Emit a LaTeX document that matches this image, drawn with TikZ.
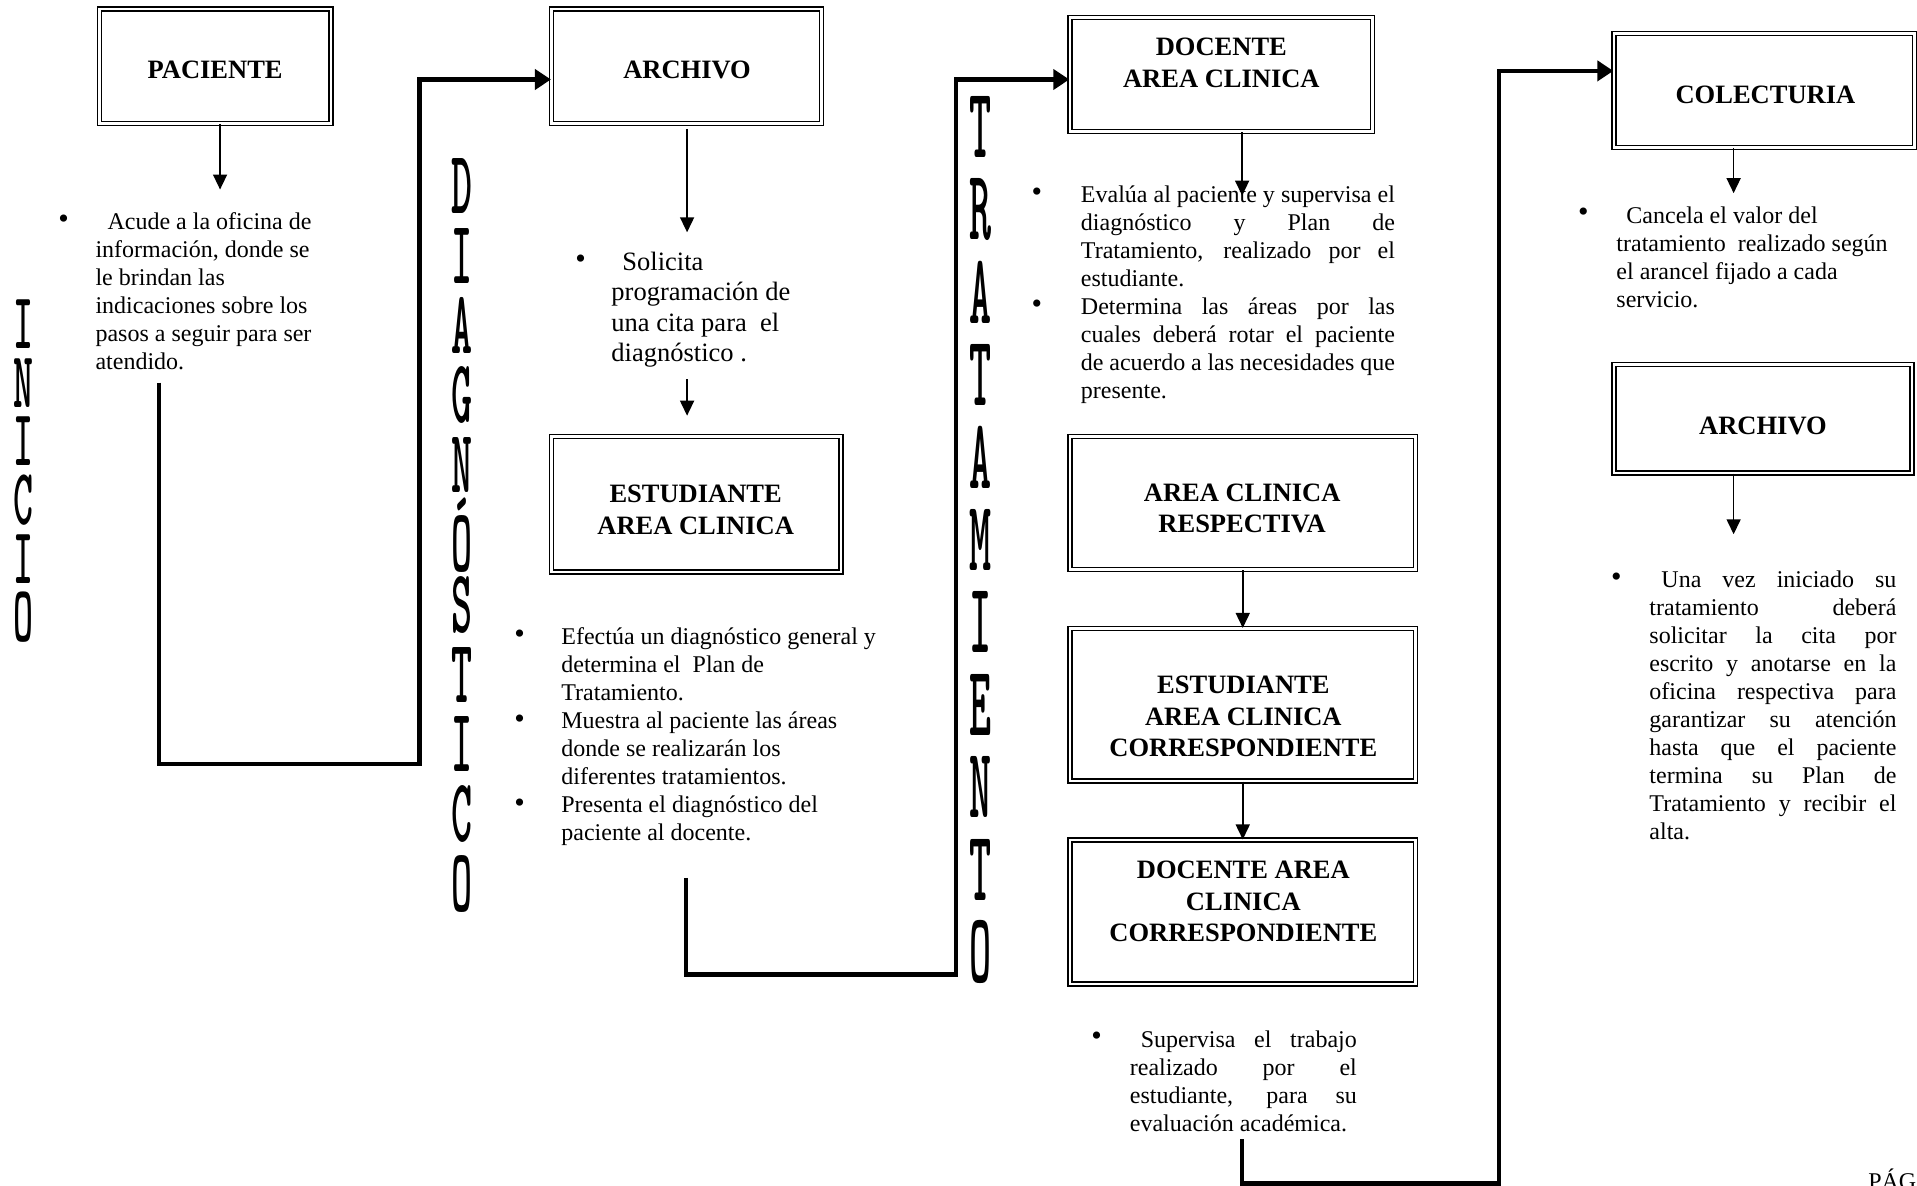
\documentclass[tikz,border=0pt]{standalone}
\usepackage{fontspec}
\setmainfont{Liberation Serif}
\usepackage{graphicx}
\usetikzlibrary{arrows.meta}
\newcommand\dboxnode[5]{\node[dbox, minimum width={#4*1.2226pt-5.4pt}, minimum height={#5*1.2226pt-5.4pt}] (#1) at (#2,#3) {};}
\newcommand\vletter[3]{\scalebox{1}[#2]{\ttfamily\bfseries\fontsize{#1}{#1}\selectfont #3}}
\begin{document}
\begin{tikzpicture}[x=1.2226pt,y=-1.2226pt,
  dbox/.style={draw, double, line width=1.4pt, double distance=2.6pt, inner sep=0pt},
  btext/.style={font=\fontsize{26.5pt}{31.5pt}\selectfont\bfseries, align=center, inner sep=0pt},
  body/.style={font=\fontsize{24pt}{28pt}\selectfont, align=left, anchor=north west, inner sep=0pt},
  bul/.style={font=\fontsize{30pt}{30pt}\selectfont, inner sep=0pt},
  conn/.style={line width=4.5pt, -{Triangle[length=16pt,width=20pt]}},
  arr/.style={line width=1.6pt, -{Triangle[length=15pt,width=14pt]}},
  vl/.style={inner sep=0pt}]
\useasboundingbox (0,0) rectangle (1568,970);
\fill[white] (0,0) rectangle (1568,970);
\clip (0,0) rectangle (1568,970);

% ---------- boxes ----------
\dboxnode{pac}{176}{54}{194}{98}
\dboxnode{arch1}{561.5}{54}{225}{98}
\dboxnode{estud1}{569.5}{412.5}{241}{115}
\dboxnode{doc1}{999}{61}{252}{98}
\dboxnode{arc}{1016.5}{411.5}{287}{113}
\dboxnode{estC}{1016.5}{576.5}{287}{129}
\dboxnode{docC}{1016.5}{746}{287}{122}
\dboxnode{colec}{1443}{74}{250}{98}
\dboxnode{arch2}{1442}{342.5}{248}{93}

\node[btext] (pacT) at (176,57) {PACIENTE};
\node[btext] (arch1T) at (562,57) {ARCHIVO};
\node[btext] (estud1T) at (569,417) {ESTUDIANTE\\AREA CLINICA};
\node[btext] (doc1T) at (999,51.5) {DOCENTE\\AREA CLINICA};
\node[btext] (arcT) at (1016,416) {AREA CLINICA\\RESPECTIVA};
\node[btext] (estCT) at (1017,586) {ESTUDIANTE\\AREA CLINICA\\CORRESPONDIENTE};
\node[btext] (docCT) at (1017,737.5) {DOCENTE AREA\\CLINICA\\CORRESPONDIENTE};
\node[btext] (colecT) at (1444,77.5) {COLECTURIA};
\node[btext] (arch2T) at (1442,348.5) {ARCHIVO};

% ---------- vertical words ----------
\foreach \c [count=\i from 0] in {I,N,I,C,I,O}
  \node[vl] (ini\i) at (19.5,{265+48*\i}) {\vletter{38pt}{2.1}{\c}};
\foreach \c [count=\i from 0] in {D,I,A,G,N,Ó,S,T,I,C,O}
  \node[vl] (dia\i) at (378,{152+57.1*\i}) {\vletter{40pt}{2.25}{\c}};
\foreach \c [count=\i from 0] in {T,R,A,T,A,M,I,E,N,T,O}
  \node[vl] (tra\i) at (802,{104+67.5*\i}) {\vletter{42pt}{2.38}{\c}};

% ---------- bullet texts ----------
\node[bul] (b1) at (52,181) {•};
\node[body] (t1) at (78,171.3) {\strut\hspace*{12pt}Acude a la oficina de\\información, donde se\\le brindan las\\indicaciones sobre los\\pasos a seguir para ser\\atendido.};

\node[bul] (b2) at (475,214) {•};
\node[body, font=\fontsize{26.5pt}{30.6pt}\selectfont] (t2) at (500,203.3) {\strut\hspace*{11pt}Solicita\\programación de\\una cita para~ el\\diagnóstico .};

\node[bul] (b3a) at (425,521) {•};
\node[bul] (b3b) at (425,590) {•};
\node[bul] (b3c) at (425,659) {•};
\node[body] (t3) at (459,511.3) {\strut Efectúa un diagnóstico general y\\determina el~ Plan de\\Tratamiento.\\Muestra al paciente las áreas\\donde se realizarán los\\diferentes tratamientos.\\Presenta el diagnóstico del\\paciente al docente.};

\node[bul] (b4a) at (848,159) {•};
\node[bul] (b4b) at (848,251) {•};
\node[body] (t4) at (884,149.3) {\strut\makebox[314pt][s]{Evalúa al paciente y supervisa el}\\\makebox[314pt][s]{diagnóstico y Plan de}\\\makebox[314pt][s]{Tratamiento, realizado por el}\\estudiante.\\\makebox[314pt][s]{Determina las áreas por las}\\\makebox[314pt][s]{cuales deberá rotar el paciente}\\\makebox[314pt][s]{de acuerdo a las necesidades que}\\presente.};

\node[bul] (b5) at (897,850) {•};
\node[body] (t5) at (924,840.3) {\strut\makebox[227pt][s]{\hspace*{11pt}Supervisa el trabajo}\\\makebox[227pt][s]{realizado por el}\\\makebox[227pt][s]{estudiante, para su}\\evaluación académica.};

\node[bul] (b6) at (1295,176) {•};
\node[body] (t6) at (1322,166.3) {\strut\hspace*{10pt}Cancela el valor del\\tratamiento~ realizado según\\el arancel fijado a cada\\servicio.};

\node[bul] (b7) at (1322,474) {•};
\node[body] (t7) at (1349,464.3) {\strut\makebox[247pt][s]{\hspace*{12pt}Una vez iniciado su}\\\makebox[247pt][s]{tratamiento deberá}\\\makebox[247pt][s]{solicitar la cita por}\\\makebox[247pt][s]{escrito y anotarse en la}\\\makebox[247pt][s]{oficina respectiva para}\\\makebox[247pt][s]{garantizar su atención}\\\makebox[247pt][s]{hasta que el paciente}\\\makebox[247pt][s]{termina su Plan de}\\\makebox[247pt][s]{Tratamiento y recibir el}\\alta.};

\node[font=\fontsize{24pt}{28pt}\selectfont, anchor=base west, inner sep=0pt] (pag) at (1528,973) {PÁG};

% ---------- thin arrows ----------
\coordinate (a1e) at (180,155);
\draw[arr] (pac.south -| a1e) -- (a1e);
\coordinate (a2e) at (562,190);
\draw[arr] ([yshift=-5pt]arch1.south -| a2e) -- (a2e);
\coordinate (a3s) at (562,310);
\coordinate (a3e) at (562,340);
\draw[arr] (a3s) -- (a3e);
\coordinate (a4e) at (1016,160);
\draw[arr] (doc1.south -| a4e) -- (a4e);
\draw[arr] (arc) -- (estC);
\draw[arr] (estC) -- (docC);
\coordinate (a7e) at (1418,158);
\draw[arr] (colec.south -| a7e) -- (a7e);
\coordinate (a8e) at (1418,437);
\draw[arr] (arch2.south -| a8e) -- (a8e);

% ---------- thick connectors ----------
\coordinate (c1s) at (130,313);
\coordinate (c1m) at (343,625);
\coordinate (c1t) at (343,65);
\draw[conn] (c1s) |- (c1m) -- (c1t) -- (arch1.west |- c1t);
\coordinate (c2s) at (561,718);
\coordinate (c2m) at (782,797);
\coordinate (c2t) at (782,65);
\draw[conn] (c2s) |- (c2m) -- (c2t) -- (doc1.west |- c2t);
\coordinate (c3s) at (1016,932);
\coordinate (c3m) at (1226,968);
\coordinate (c3t) at (1226,58);
\draw[conn] (c3s) |- (c3m) -- (c3t) -- (colec.west |- c3t);
\end{tikzpicture}
\end{document}
